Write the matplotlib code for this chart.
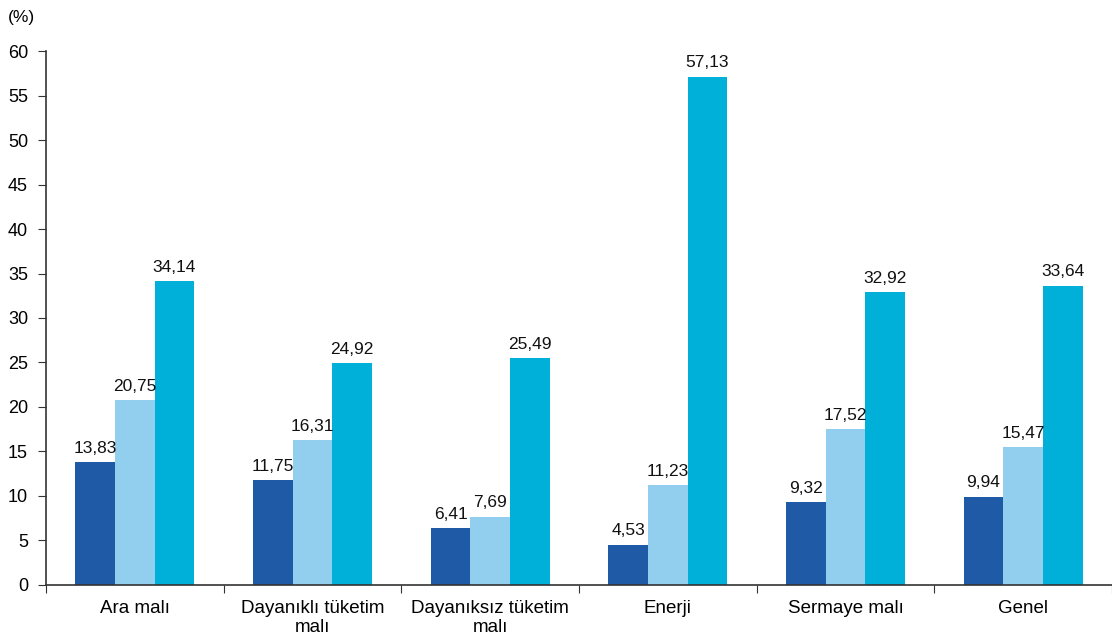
import matplotlib
matplotlib.use("Agg")
import matplotlib.pyplot as plt
import numpy as np

plt.rcParams['font.family'] = ['Liberation Sans', 'DejaVu Sans']

categories = ["Ara malı", "Dayanıklı tüketim\nmalı", "Dayanıksız tüketim\nmalı",
              "Enerji", "Sermaye malı", "Genel"]
series1 = [13.83, 11.75, 6.41, 4.53, 9.32, 9.94]
series2 = [20.75, 16.31, 7.69, 11.23, 17.52, 15.47]
series3 = [34.14, 24.92, 25.49, 57.13, 32.92, 33.64]
colors = ["#1F5AA7", "#92CEEE", "#00B0D8"]

fig = plt.figure(figsize=(11.12, 6.36), dpi=100)
ax = fig.add_axes([0.0414, 0.0802, 0.9586, 0.8396])

x = np.arange(len(categories))
w = 0.223
for i, (vals, c) in enumerate(zip([series1, series2, series3], colors)):
    pos = x + (i - 1) * w
    ax.bar(pos, vals, width=w, color=c, zorder=2)
    for p, v in zip(pos, vals):
        ax.text(p, v + 0.7, f"{v:.2f}".replace(".", ","), ha="center", va="bottom",
                fontsize=12.5, color="#111111")

ax.set_xlim(-0.5, len(categories) - 0.5)
ax.set_ylim(0, 60)
ax.set_yticks(np.arange(0, 61, 5))
ax.set_xticks(np.arange(-0.5, len(categories), 1.0))
ax.set_xticklabels([])
ax.set_xticks(x, minor=True)
ax.set_xticklabels(categories, minor=True, fontsize=13.5, linespacing=1.1)
ax.tick_params(axis="x", which="minor", length=0, pad=11)
ax.tick_params(axis="x", which="major", length=6, direction="out", color="#333333")
ax.tick_params(axis="y", length=6, direction="out", labelsize=13, color="#333333", pad=7)
for s in ["top", "right"]:
    ax.spines[s].set_visible(False)
for s in ["left", "bottom"]:
    ax.spines[s].set_color("#333333")
    ax.spines[s].set_linewidth(1.2)

fig.text(0.007, 0.972, "(%)", fontsize=12.5, ha="left", va="center")

fig.savefig("out.png", dpi=100)
